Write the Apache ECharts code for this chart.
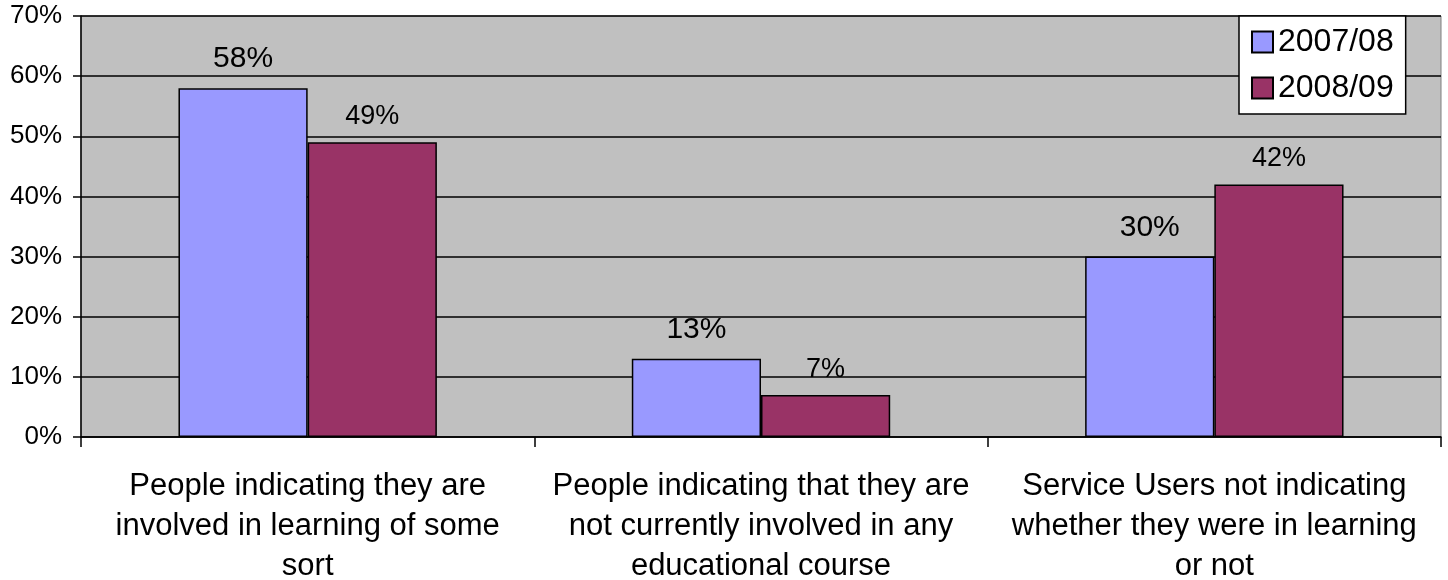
<!DOCTYPE html>
<html><head><meta charset="utf-8">
<script src="https://cdn.jsdelivr.net/npm/echarts@6/dist/echarts.min.js"></script>
<style>html,body{margin:0;padding:0;background:#fff}#c{width:1448px;height:580px}</style>
</head><body><div id="c"></div>
<script>
const categories = [
  "People indicating they are\ninvolved in learning of some\nsort",
  "People indicating that they are\nnot currently involved in any\neducational course",
  "Service Users not indicating\nwhether they were in learning\nor not"
];
const seriesNames = ["2007/08", "2008/09"];
const values0708 = [58, 13, 30];
const values0809 = [49, 7, 42];
const yTicks = [0, 10, 20, 30, 40, 50, 60, 70];

const font = "Liberation Sans, Arial, sans-serif";
const chart = echarts.init(document.getElementById('c'));
chart.setOption({
  animation: false,
  textStyle: { fontFamily: font, color: '#000' },
  grid: { left: 81, right: 7, top: 16, bottom: 143, show: true, backgroundColor: '#C0C0C0', borderColor: '#808080', borderWidth: 1, containLabel: false, outerBoundsMode: 'none' },
  legend: {
    orient: 'vertical', left: 1239, top: 16,
    backgroundColor: '#fff', borderColor: '#000', borderWidth: 1.5,
    padding: [10, 12, 10, 12], itemGap: 14, itemWidth: 21, itemHeight: 21, icon: 'rect',
    textStyle: { fontSize: 32, lineHeight: 31, fontFamily: font, color: '#000' },
    data: seriesNames
  },
  xAxis: {
    type: 'category', data: categories,
    axisLine: { lineStyle: { color: '#000', width: 1.5 } },
    axisTick: { show: true, length: 10, lineStyle: { color: '#000', width: 1.5 } },
    axisLabel: { fontSize: 31, lineHeight: 40, color: '#000', fontFamily: font, margin: 29, interval: 0 }
  },
  yAxis: {
    type: 'value', min: 0, max: 70, interval: 10,
    axisLine: { show: true, lineStyle: { color: '#000', width: 1.5 } },
    axisTick: { show: true, length: 8, lineStyle: { color: '#000', width: 1.5 } },
    splitLine: { lineStyle: { color: '#000', width: 1.5 } },
    axisLabel: { fontSize: 26, color: '#000', fontFamily: font, margin: 19, formatter: v => yTicks.includes(v) ? v + '%' : '' }
  },
  series: [
    {
      name: seriesNames[0], type: 'bar', data: values0708, barGap: '0%', barCategoryGap: '43%',
      itemStyle: { color: '#9999FF', borderColor: '#000', borderWidth: 1.5 },
      label: { show: true, position: 'top', distance: 14, fontSize: 30, color: '#000', fontFamily: font, formatter: p => p.value + '%' }
    },
    {
      name: seriesNames[1], type: 'bar', data: values0809,
      itemStyle: { color: '#993366', borderColor: '#000', borderWidth: 1.5 },
      label: { show: true, position: 'top', distance: 12, fontSize: 27, color: '#000', fontFamily: font, formatter: p => p.value + '%' }
    }
  ]
});
</script></body></html>
